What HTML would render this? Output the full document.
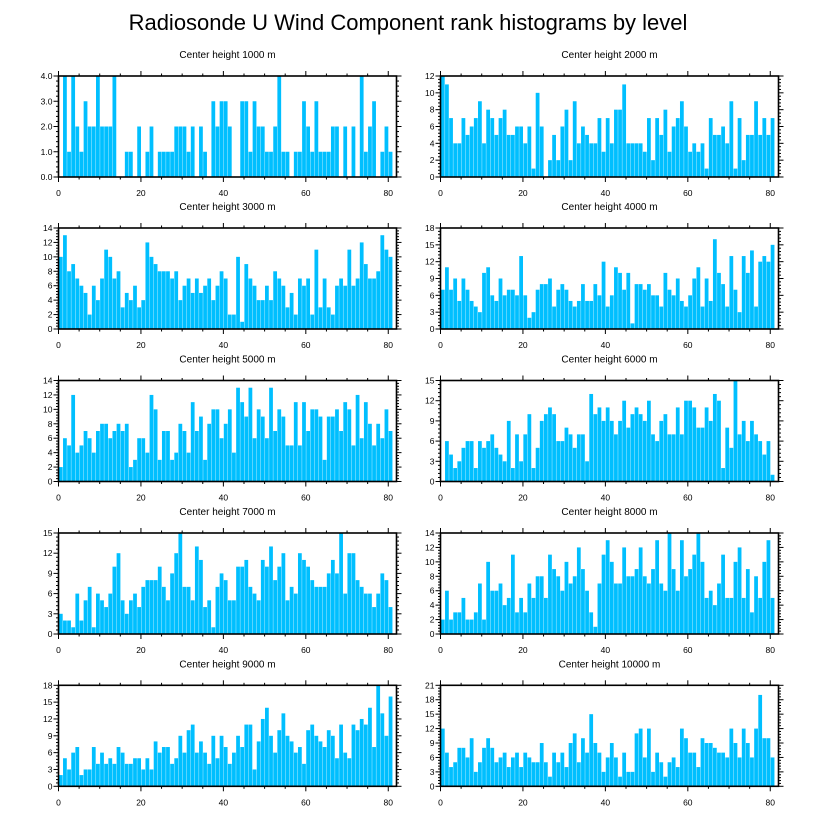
<!DOCTYPE html>
<html><head><meta charset="utf-8">
<style>
html,body{margin:0;padding:0;background:#fff;}
svg{display:block;font-family:"Liberation Sans",Arial,sans-serif;}
</style></head>
<body>
<svg id="chart" width="818" height="824" viewBox="0 0 818 824" xmlns="http://www.w3.org/2000/svg">
<text x="408" y="30" text-anchor="middle" font-size="22" fill="#000">Radiosonde U Wind Component rank histograms by level</text>
</svg>
<script>
const levels = ["1000","2000","3000","4000","5000","6000","7000","8000","9000","10000"];
const yMaxes = [4,12,14,18,14,15,15,14,18,21];
const yMajorSteps = [1,2,2,3,2,3,3,2,3,3];
const xTickValues = [0,20,40,60,80];
const counts1000 = [0,4,1,4,2,1,3,2,2,4,2,2,2,4,0,0,1,1,0,2,0,1,2,0,1,1,1,1,2,2,2,1,2,0,2,1,0,3,2,3,3,2,0,0,3,3,1,3,2,2,1,1,2,4,1,1,0,1,1,3,2,1,3,1,1,1,2,2,0,2,0,2,0,4,1,2,3,0,1,2,1];
const counts2000 = [12,11,7,4,4,7,5,6,7,9,4,8,7,5,7,8,5,5,6,6,4,6,1,10,6,0,2,5,2,6,8,2,9,4,6,5,4,4,7,3,7,4,8,8,11,4,4,4,4,3,7,2,7,5,8,3,6,7,9,6,3,4,3,4,1,7,5,5,6,4,9,1,7,2,5,5,9,5,7,5,7];
const counts3000 = [10,13,8,9,7,6,5,2,6,4,7,11,10,7,8,3,5,4,6,3,4,12,10,9,8,8,8,7,8,4,6,7,5,7,5,6,7,4,6,8,7,2,2,10,1,9,7,6,4,4,6,4,8,7,6,3,5,2,7,6,7,2,11,3,7,3,2,6,7,6,11,6,7,12,9,7,7,8,13,11,10];
const counts4000 = [7,11,7,9,5,9,7,5,4,3,10,11,6,5,9,6,7,7,6,13,6,2,3,7,8,8,9,4,7,8,7,5,4,5,8,5,5,8,6,12,4,6,11,10,7,10,1,8,8,7,8,6,6,4,10,7,6,9,5,4,6,9,11,4,9,5,16,10,8,4,13,7,3,13,10,14,4,12,13,12,15];
const counts5000 = [2,6,5,12,4,5,7,6,4,7,8,8,6,7,8,7,8,2,3,6,6,4,12,10,3,7,7,3,4,8,7,4,11,7,9,3,8,10,10,6,8,10,4,13,11,9,13,6,10,9,6,13,7,10,9,5,5,11,5,11,7,10,10,9,3,9,9,10,7,11,10,5,12,6,11,8,5,8,6,10,7];
const counts6000 = [0,6,4,2,3,5,6,6,2,6,5,6,7,5,4,3,9,2,7,3,7,10,2,5,9,10,11,10,6,6,8,7,5,7,7,3,13,10,11,9,11,9,7,9,12,8,10,11,10,9,12,7,6,9,10,7,7,11,7,12,12,11,8,8,11,9,13,12,2,8,5,15,7,9,6,9,7,6,4,6,1];
const counts7000 = [3,2,2,1,6,2,5,7,1,6,5,4,6,10,12,5,3,5,6,4,7,8,8,8,10,7,5,9,12,15,7,7,5,13,11,4,5,1,7,9,8,5,5,10,10,11,7,6,5,11,10,13,8,10,12,5,7,6,12,11,10,8,7,7,7,9,11,9,15,6,12,12,8,7,6,6,4,6,9,8,4];
const counts8000 = [2,6,2,3,3,5,2,2,3,7,2,10,6,6,7,4,5,11,3,5,3,7,5,8,8,5,11,9,8,6,10,7,8,12,9,6,3,1,7,11,13,10,7,7,12,8,8,9,12,8,7,9,13,7,6,14,9,6,13,8,9,11,14,10,5,6,4,7,11,5,5,10,12,5,9,3,8,5,10,13,5];
const counts9000 = [2,5,3,6,7,2,3,3,7,4,6,4,5,4,7,6,4,4,5,5,3,5,3,8,6,7,7,4,5,9,6,10,11,6,8,6,4,9,5,9,7,4,6,9,7,11,11,3,8,12,14,9,6,10,13,9,8,6,7,4,10,11,9,8,7,10,9,5,11,6,5,11,10,12,11,14,7,18,13,9,16];
const counts10000 = [12,7,4,5,8,8,6,10,3,5,8,10,8,5,6,7,4,6,7,4,7,6,5,5,9,5,2,7,5,7,4,9,11,5,10,7,15,9,7,3,6,9,6,2,7,3,3,11,12,6,12,3,7,5,2,5,6,4,12,10,7,7,4,10,9,9,8,7,7,6,12,9,6,12,9,6,12,19,10,10,6];
const allCounts = [counts1000,counts2000,counts3000,counts4000,counts5000,counts6000,counts7000,counts8000,counts9000,counts10000];

const NS = "http://www.w3.org/2000/svg";
const svg = document.getElementById("chart");
function mk(tag, attrs, parent){
  const e = document.createElementNS(NS, tag);
  for (const k in attrs) e.setAttribute(k, attrs[k]);
  (parent||svg).appendChild(e);
  return e;
}
const XMAX = 82;
const colLeft = [58.5, 440.5];
const plotW = 338;
const rowTop = [76, 228, 380.5, 533, 685.3];
const plotH = 101;

levels.forEach((lev, p) => {
  const col = p % 2, row = Math.floor(p / 2);
  const L = colLeft[col], T = rowTop[row], B = T + plotH, R = L + plotW;
  const ymax = yMaxes[p], step = yMajorSteps[p];
  const xs = v => L + v / XMAX * plotW;
  const ys = v => B - v / ymax * plotH;
  const g = mk("g", {});
  
  

  const title = mk("text", {x: (L + R) / 2, y: T - 18, "text-anchor": "middle", "font-size": "10", fill: "#000"}, g);
  
  
  title.textContent = "Center height " + lev + " m";

  const bars = mk("g", {}, g);
  
  
  allCounts[p].forEach((c, i) => {
    if (c <= 0) return;
    const x0 = xs(i + 0.1), x1 = xs(i + 1.1);
    const r = mk("rect", {x: x0, y: ys(c), width: Math.max(0.5, x1 - x0 - 0.35), height: B - ys(c), fill: "#00bfff"}, bars);
    
    
  });

  const tk = mk("g", {stroke: "#000", "stroke-width": "1"}, g);
  
  
  for (let v = 0; v <= XMAX; v += 5) {
    const x = xs(v), len = (v % 20 === 0) ? 5 : 2.5;
    mk("line", {x1: x, y1: B, x2: x, y2: B + len}, tk);
    mk("line", {x1: x, y1: T, x2: x, y2: T - len}, tk);
  }
  const minor = step / 5;
  for (let k = 0; k * minor <= ymax + 1e-9; k++) {
    const v = k * minor, y = ys(v), len = (k % 5 === 0) ? 5 : 2.5;
    mk("line", {x1: L, y1: y, x2: L - len, y2: y}, tk);
    mk("line", {x1: R, y1: y, x2: R + len, y2: y}, tk);
  }
  const fr = mk("rect", {x: L, y: T, width: plotW, height: plotH, fill: "none", stroke: "#000", "stroke-width": "1.6"}, g);
  
  

  for (let v = 0; v <= ymax + 1e-9; v += step) {
    const t = mk("text", {x: L - 6, y: ys(v) + 3, "text-anchor": "end", "font-size": "8.5", fill: "#000"}, g);
    
    
    t.textContent = (ymax === 4) ? v.toFixed(1) : String(v);
  }
  xTickValues.forEach(v => {
    const t = mk("text", {x: xs(v), y: B + 19, "text-anchor": "middle", "font-size": "8.5", fill: "#000"}, g);
    
    
    t.textContent = String(v);
  });
});
</script>
</body></html>
